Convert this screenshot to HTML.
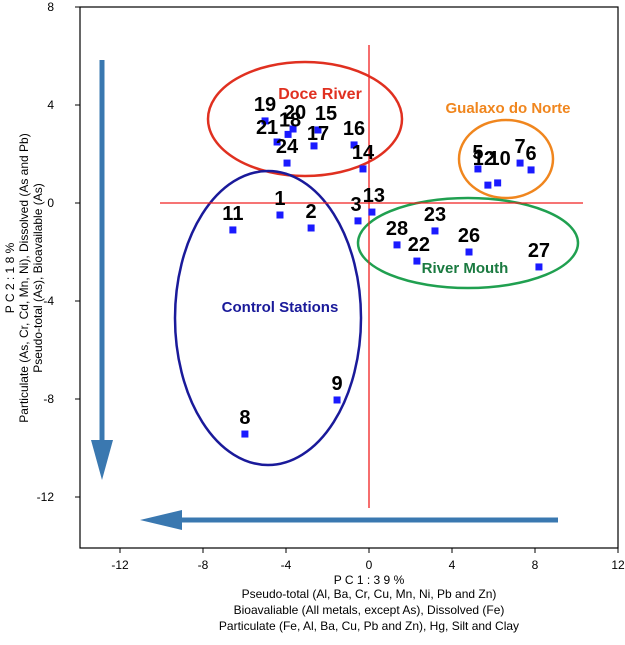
<!DOCTYPE html>
<html><head><meta charset="utf-8"><style>
body{margin:0;background:#fff}
svg text{font-family:"Liberation Sans",sans-serif}
</style></head><body>
<svg id="c" width="625" height="640" xmlns="http://www.w3.org/2000/svg">
<rect x="80" y="7" width="538" height="541" fill="#fff" stroke="#000" stroke-width="1.2"/>
<g id="axes"></g>
<ellipse cx="305" cy="119" rx="97" ry="57" fill="none" stroke="#e03020" stroke-width="2.5"/>
<ellipse cx="268" cy="318" rx="93" ry="147" fill="none" stroke="#1a1a9a" stroke-width="2.5"/>
<ellipse cx="506" cy="159" rx="47" ry="39" fill="none" stroke="#f0861e" stroke-width="2.5"/>
<ellipse cx="468" cy="243" rx="110" ry="45" fill="none" stroke="#20a050" stroke-width="2.5"/>
<line x1="369" y1="45" x2="369" y2="508" stroke="#f02020" stroke-width="1.3"/>
<line x1="160" y1="203" x2="583" y2="203" stroke="#f02020" stroke-width="1.3"/>
<g>
<line x1="102" y1="60" x2="102" y2="445" stroke="#3a78b0" stroke-width="5"/>
<polygon points="91,440 113,440 102,480" fill="#3a78b0"/></g>
<g>
<line x1="558" y1="520" x2="180" y2="520" stroke="#3a78b0" stroke-width="5"/>
<polygon points="182,510 182,530 140,520" fill="#3a78b0"/></g>
<text x="320" y="99" text-anchor="middle" font-size="16" font-weight="bold" fill="#e03020">Doce River</text>
<text x="508" y="113" text-anchor="middle" font-size="15" font-weight="bold" fill="#f0861e">Gualaxo do Norte</text>
<text x="465" y="273" text-anchor="middle" font-size="15" font-weight="bold" fill="#1a7a40">River Mouth</text>
<text x="280" y="312" text-anchor="middle" font-size="15" font-weight="bold" fill="#1a1a9a">Control Stations</text>
<g id="pts"></g>
<text x="369" y="584" text-anchor="middle" font-size="12">P C 1 : 3 9 %</text>
<text x="369" y="598" text-anchor="middle" font-size="12">Pseudo-total (Al, Ba, Cr, Cu, Mn, Ni, Pb and Zn)</text>
<text x="369" y="614" text-anchor="middle" font-size="12">Bioavaliable (All metals, except As), Dissolved (Fe)</text>
<text x="369" y="630" text-anchor="middle" font-size="12">Particulate (Fe, Al, Ba, Cu, Pb and Zn), Hg, Silt and Clay</text>
<g transform="translate(0,278) rotate(-90)">
<text x="0" y="14" text-anchor="middle" font-size="12">P C 2 : 1 8 %</text>
<text x="0" y="28" text-anchor="middle" font-size="12">Particulate (As, Cr, Cd, Mn, Ni), Dissolved (As and Pb)</text>
<text x="0" y="42" text-anchor="middle" font-size="12">Pseudo-total (As), Bioavailable (As)</text>
</g>
</svg>
<script>
const labels=["19","20","15","21","18","17","24","16","14","1","2","3","13","11","5","12","10","7","6","28","23","22","26","27","8","9"];
const pc1=[-5.01,-3.66,-2.46,-4.43,-3.9,-2.65,-3.95,-0.72,-0.29,-4.29,-2.79,-0.53,0.14,-6.56,5.25,5.73,6.2,7.28,7.81,1.35,3.18,2.31,4.82,8.19,-5.98,-1.54];
const pc2=[3.35,3.02,2.98,2.49,2.8,2.33,1.63,2.37,1.39,-0.49,-1.02,-0.73,-0.37,-1.1,1.39,0.73,0.82,1.63,1.35,-1.71,-1.14,-2.37,-2.0,-2.61,-9.43,-8.04];
const xTicks=[-12,-8,-4,0,4,8,12];
const yTicks=[8,4,0,-4,-8,-12];
const X=v=>369+v*20.75, Y=v=>203-v*24.5;
const NS="http://www.w3.org/2000/svg";
const ax=document.getElementById('axes'), pts=document.getElementById('pts');
function mk(tag,at,parent){const e=document.createElementNS(NS,tag);for(const k in at)e.setAttribute(k,at[k]);parent.appendChild(e);return e;}
xTicks.forEach(t=>{
 const l=mk('line',{x1:X(t),x2:X(t),y1:548,y2:553,stroke:'#000'},ax);
 
 
 const tx=mk('text',{x:X(t),y:569,'text-anchor':'middle','font-size':12},ax);tx.textContent=t;
 
 
});
yTicks.forEach(t=>{
 const l=mk('line',{x1:75,x2:80,y1:Y(t),y2:Y(t),stroke:'#000'},ax);
 
 
 const tx=mk('text',{x:54,y:Y(t)+4,'text-anchor':'end','font-size':12},ax);tx.textContent=t;
 
 
});
const dx={"21":-10,"18":2,"20":2,"15":8,"17":4,"12":-4,"10":2,"7":0,"6":0,"28":0,"22":2,"13":2,"3":-2,"23":0};
const dy={"12":-20,"10":-18,"18":-8,"20":-10,"17":-6,"21":-8,"15":-10};
labels.forEach((lb,i)=>{
 const cx=X(pc1[i]),cy=Y(pc2[i]);
 const r=mk('rect',{x:cx-3.5,y:cy-3.5,width:7,height:7,fill:'#1a1aff'},pts);
 
 
 const t=mk('text',{x:cx+(dx[lb]||0),y:cy+(dy[lb]!==undefined?dy[lb]:-10),'text-anchor':'middle','font-size':20,'font-weight':'bold',fill:'#000'},pts);
 t.textContent=lb;
 
 
});
</script>
</body></html>
